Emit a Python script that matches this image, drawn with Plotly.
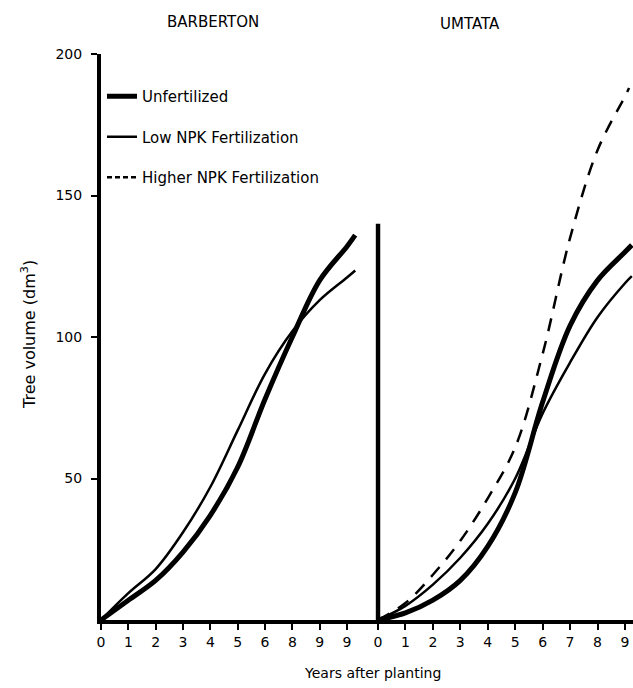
import plotly.graph_objects as go

# ---------------- data ----------------
years_barb = [0, 1, 2, 3, 4, 5, 6, 7, 8, 9, 9.3]
barb_unfertilized = [0, 7, 14, 24, 37, 54, 78, 100, 120, 132, 136]
barb_low_npk = [0, 9.5, 18, 31, 47, 67, 87, 102, 113, 121, 123.5]

years_umt = [0, 1, 2, 3, 4, 5, 6, 7, 8, 9, 9.25]
umt_unfertilized = [0, 2.5, 7, 14, 26, 45, 77, 104, 120, 130, 132.5]
umt_low_npk = [0, 5, 12.5, 22, 34, 50, 73, 91, 107, 119, 121.5]
years_umt_high = [0, 1, 2, 3, 4, 5, 6, 7, 8, 9, 9.15]
umt_higher_npk = [0, 6, 16, 28, 43, 61, 94, 135, 166, 185, 188]

left_tickvals = [0, 1, 2, 3, 4, 5, 6, 7, 8, 9]
left_ticktext = ["0", "1", "2", "3", "4", "5", "6", "8", "9", "9"]
right_tickvals = [0, 1, 2, 3, 4, 5, 6, 7, 8, 9]
right_ticktext = ["0", "1", "2", "3", "4", "5", "6", "7", "8", "9"]
y_tickvals = [50, 100, 150, 200]
y_ticktext = ["50", "100", "150", "200"]

# ---------------- layout geometry ----------------
W, H = 633, 688
ML, MR, MT, MB = 101, 0, 54, 68
PW = W - ML - MR
PH = H - MT - MB
RIGHT_START = -0.1          # right panel range start (so its axis line is not clipped)
right_unit = 27.44
split_px = 378 + RIGHT_START * right_unit
split = (split_px - ML) / PW
left_unit = (347 - ML) / 9.0
left_end = (split_px - ML) / left_unit
right_end = RIGHT_START + (W - split_px) / right_unit

def px(xp):
    return (xp - ML) / PW

def py(yp):
    return 1 - (yp - MT) / PH

FONT = "DejaVu Sans"
THICK = 5
THIN = 2.5

fig = go.Figure()

fig.add_trace(go.Scatter(x=years_barb, y=barb_unfertilized, mode="lines",
                         name="Unfertilized", legendgroup="a",
                         line=dict(color="black", width=THICK, shape="spline"),
                         xaxis="x", yaxis="y"))
fig.add_trace(go.Scatter(x=years_barb, y=barb_low_npk, mode="lines",
                         name="Low NPK Fertilization", legendgroup="b",
                         line=dict(color="black", width=THIN, shape="spline"),
                         xaxis="x", yaxis="y"))
fig.add_trace(go.Scatter(x=years_umt, y=umt_unfertilized, mode="lines",
                         name="Unfertilized", legendgroup="a", showlegend=False,
                         line=dict(color="black", width=THICK, shape="spline"),
                         xaxis="x2", yaxis="y"))
fig.add_trace(go.Scatter(x=years_umt, y=umt_low_npk, mode="lines",
                         name="Low NPK Fertilization", legendgroup="b", showlegend=False,
                         line=dict(color="black", width=THIN, shape="spline"),
                         xaxis="x2", yaxis="y"))
fig.add_trace(go.Scatter(x=years_umt_high, y=umt_higher_npk, mode="lines",
                         name="Higher NPK Fertilization", legendgroup="c", showlegend=False,
                         line=dict(color="black", width=THIN, shape="spline", dash="13px,10px"),
                         xaxis="x2", yaxis="y"))
# legend key for the dashed series (short dashes as in the key)
fig.add_trace(go.Scatter(x=[None], y=[None], mode="lines",
                         name="Higher NPK Fertilization", legendgroup="c",
                         line=dict(color="black", width=THIN, dash="5px,3px"),
                         xaxis="x2", yaxis="y"))

# right panel's vertical axis (shorter than the left one)
fig.add_shape(type="line", xref="x2", yref="y", x0=0, x1=0, y0=0, y1=140,
              line=dict(color="black", width=4.5))

axis_common = dict(showgrid=False, zeroline=False, showline=True, linecolor="black",
                   linewidth=4, ticks="outside", ticklen=6, tickwidth=2,
                   tickcolor="black", tickfont=dict(family=FONT, size=14, color="black"))

fig.update_layout(
    width=W, height=H,
    margin=dict(l=ML, r=MR, t=MT, b=MB),
    paper_bgcolor="white", plot_bgcolor="white",
    font=dict(family=FONT, color="black"),
    xaxis=dict(domain=[0, split], range=[0, left_end], tickvals=left_tickvals,
               ticktext=left_ticktext, anchor="y", **axis_common),
    xaxis2=dict(domain=[split, 1], range=[RIGHT_START, right_end], tickvals=right_tickvals,
                ticktext=right_ticktext, anchor="y", **axis_common),
    yaxis=dict(range=[0, 200], tickvals=y_tickvals, ticktext=y_ticktext,
               ticklabelstandoff=6, **axis_common),
    legend=dict(x=px(102), y=py(80), xanchor="left", yanchor="top",
                font=dict(family=FONT, size=15, color="black"),
                tracegroupgap=18, bgcolor="rgba(0,0,0,0)", itemwidth=30),
    showlegend=True,
)

fig.add_annotation(text="BARBERTON", xref="paper", yref="paper", x=px(213), y=py(22),
                   showarrow=False, font=dict(family=FONT, size=15), xanchor="center", yanchor="middle")
fig.add_annotation(text="UMTATA", xref="paper", yref="paper", x=px(470), y=py(24),
                   showarrow=False, font=dict(family=FONT, size=15), xanchor="center", yanchor="middle")
fig.add_annotation(text="Years after planting", xref="paper", yref="paper", x=px(372), y=py(673),
                   showarrow=False, font=dict(family=FONT, size=14), xanchor="center", yanchor="middle")
fig.add_annotation(text="Tree volume (dm<sup>3</sup>)", xref="paper", yref="paper", x=px(28), y=py(335),
                   showarrow=False, textangle=-90, font=dict(family=FONT, size=16),
                   xanchor="center", yanchor="middle")

fig.write_html("out.html", config={"displayModeBar": False},
               post_script="document.body.style.margin='0';")
